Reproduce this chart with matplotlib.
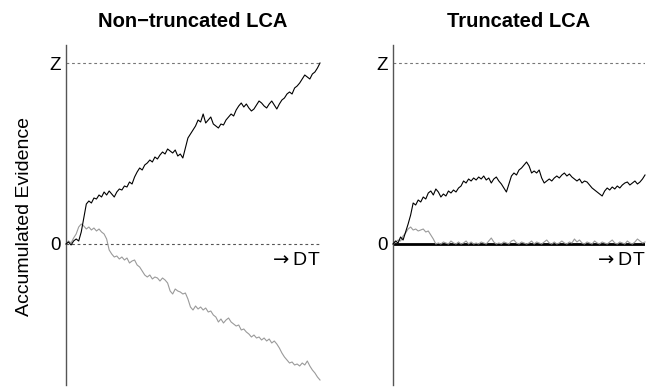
import numpy as np
import matplotlib
matplotlib.use("Agg")
import matplotlib.pyplot as plt

plt.rcParams['font.family'] = ['Liberation Sans', 'DejaVu Sans']

# evidence traces, one sample per time step (Z threshold = 181)
threshold = 181
left_winner = [0, 2, -1, 3, 5, 3, 12, 26, 40, 43, 41, 46, 45, 49, 47, 52, 49, 53, 50, 47,
               52, 55, 54, 58, 57, 62, 60, 67, 72, 76, 74, 79, 81, 84, 82, 87, 85, 89, 92, 90,
               95, 93, 91, 94, 88, 90, 86, 96, 106, 110, 114, 118, 124, 122, 130, 121, 124, 127, 120, 118,
               116, 120, 119, 124, 127, 130, 128, 134, 138, 141, 137, 140, 136, 133, 135, 139, 143, 141, 138, 136,
               140, 143, 139, 135, 140, 144, 146, 150, 152, 150, 156, 158, 161, 165, 169, 167, 165, 170, 172, 176,
               181]
left_loser = [0, 3, 1, 6, 10, 17, 20, 18, 15, 17, 14, 16, 13, 15, 12, 10, 5, -6, -10, -13,
              -12, -15, -13, -16, -14, -19, -17, -16, -21, -23, -27, -31, -33, -31, -35, -33, -34, -37, -34, -36,
              -39, -47, -50, -45, -47, -48, -50, -49, -55, -63, -66, -62, -65, -63, -66, -64, -68, -67, -71, -73,
              -78, -75, -79, -76, -74, -78, -80, -82, -81, -86, -85, -88, -90, -93, -91, -94, -93, -96, -94, -97,
              -95, -99, -97, -100, -104, -109, -113, -116, -119, -118, -121, -120, -122, -119, -121, -117, -122, -126, -129, -133,
              -136]
right_winner = [0, 3, 1, 7, 4, 12, 20, 29, 41, 39, 44, 42, 47, 45, 51, 53, 49, 55, 52, 47,
                50, 48, 53, 51, 54, 52, 56, 58, 63, 61, 65, 63, 66, 64, 67, 65, 68, 64, 66, 61,
                65, 67, 63, 60, 56, 52, 60, 68, 71, 69, 74, 76, 79, 82, 78, 71, 73, 71, 74, 66,
                61, 63, 65, 63, 66, 68, 66, 69, 71, 68, 70, 67, 65, 63, 65, 61, 63, 62, 59, 56,
                54, 52, 50, 48, 53, 56, 54, 57, 55, 58, 56, 59, 61, 62, 59, 61, 63, 60, 62, 65,
                69]
right_loser = [0, 2, 4, 3, 8, 11, 15, 17, 14, 15, 13, 14, 15, 12, 13, 9, 5, 0, 1, 0,
               2, 1, 0, 3, 1, 0, 2, 0, 1, 3, 0, 2, 0, 1, 0, 2, 1, 0, 3, 6,
               2, 0, 1, 0, 2, 1, 0, 3, 4, 1, 0, 2, 1, 0, 1, 3, 0, 2, 1, 0,
               2, 4, 1, 0, 2, 0, 1, 3, 1, 0, 2, 1, 5, 2, 4, 1, 0, 2, 1, 0,
               3, 1, 0, 2, 1, 0, 2, 4, 1, 0, 2, 1, 0, 3, 1, 0, 2, 5, 3, 1,
               2]

titles = ["Non\u2212truncated LCA", "Truncated LCA"]

fig = plt.figure(figsize=(6.63, 3.87), dpi=100)
ax1 = fig.add_axes([66 / 663, 2 / 387, 254 / 663, 340 / 387])
ax2 = fig.add_axes([393 / 663, 2 / 387, 252 / 663, 340 / 387])

panels = [(ax1, left_winner, left_loser, titles[0], False),
          (ax2, right_winner, right_loser, titles[1], True)]

for ax, win, lose, title, truncated in panels:
    t = np.arange(len(win))
    ax.set_xlim(0, len(win) - 1)
    ax.set_ylim(-141, 199)
    ax.plot(t, lose, color='#9a9a9a', lw=0.8, clip_on=False, zorder=2)
    ax.plot(t, win, color='black', lw=0.8, clip_on=False, zorder=3)
    ax.axhline(threshold, color='#777777', lw=0.8, ls=(0, (2.5, 2.5)), zorder=1)
    if truncated:
        ax.axhline(0, color='black', lw=2, zorder=1)
    else:
        ax.axhline(0, color='#555555', lw=0.8, ls=(0, (2.5, 2.5)), zorder=1)
    for s in ['top', 'right', 'bottom']:
        ax.spines[s].set_visible(False)
    ax.spines['left'].set_color('#555555')
    ax.spines['left'].set_linewidth(1.0)
    ax.set_xticks([])
    ax.set_yticks([0, threshold])
    ax.set_yticklabels(['0', 'Z'], fontsize=13.5)
    ax.tick_params(axis='y', length=0, pad=4)
    ax.text(1.0, -8, r'$\rightarrow$DT', transform=ax.get_yaxis_transform(),
            ha='right', va='top', fontsize=14)
    ax.set_title(title, fontsize=14.5, fontweight='bold', pad=13)

fig.text(25 / 663, 1 - 217 / 387, 'Accumulated Evidence', rotation=90,
         ha='center', va='center', fontsize=14)

fig.savefig('out.png', dpi=100)
